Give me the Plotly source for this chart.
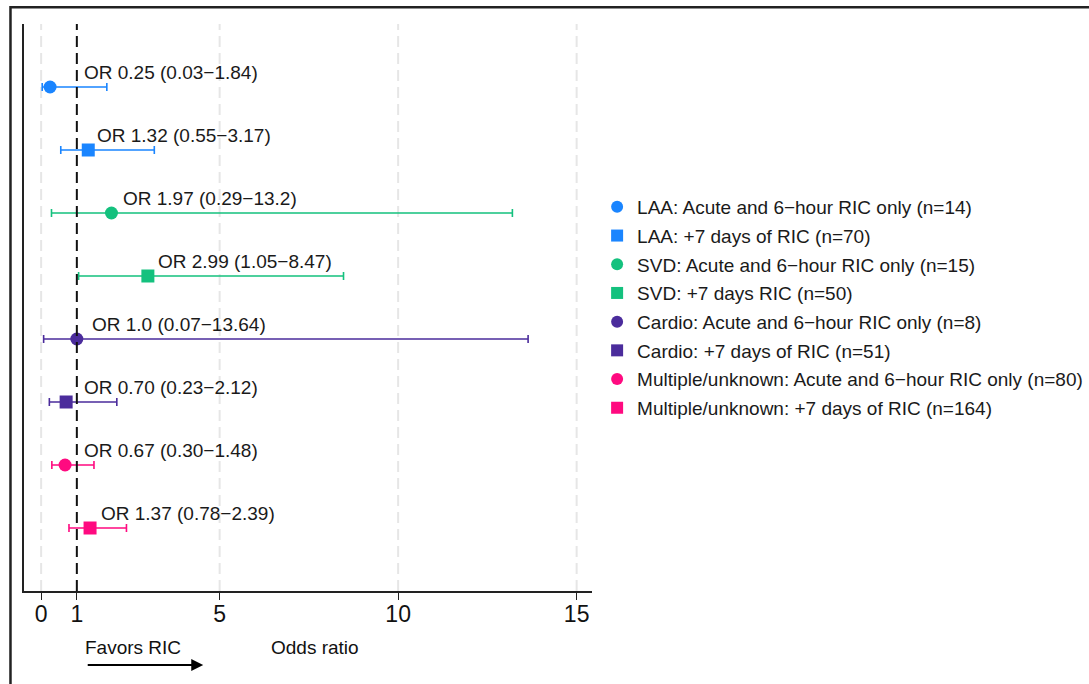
import plotly.graph_objects as go
import numpy as np

labels = [
    "LAA: Acute and 6\u2212hour RIC only (n=14)",
    "LAA: +7 days of RIC (n=70)",
    "SVD: Acute and 6\u2212hour RIC only (n=15)",
    "SVD: +7 days RIC (n=50)",
    "Cardio: Acute and 6\u2212hour RIC only (n=8)",
    "Cardio: +7 days of RIC (n=51)",
    "Multiple/unknown: Acute and 6\u2212hour RIC only (n=80)",
    "Multiple/unknown: +7 days of RIC (n=164)",
]
odds = [0.25, 1.32, 1.97, 2.99, 1.0, 0.70, 0.67, 1.37]
lower = [0.03, 0.55, 0.29, 1.05, 0.07, 0.23, 0.30, 0.78]
upper = [1.84, 3.17, 13.2, 8.47, 13.64, 2.12, 1.48, 2.39]
or_text = ["OR 0.25 (0.03\u22121.84)", "OR 1.32 (0.55\u22123.17)", "OR 1.97 (0.29\u221213.2)",
           "OR 2.99 (1.05\u22128.47)", "OR 1.0 (0.07\u221213.64)", "OR 0.70 (0.23\u22122.12)",
           "OR 0.67 (0.30\u22121.48)", "OR 1.37 (0.78\u22122.39)"]
colors = ["#1A85FF", "#1A85FF", "#14C17E", "#14C17E", "#4B2C9C", "#4B2C9C", "#FF0A80", "#FF0A80"]
symbols = ["circle", "square", "circle", "square", "circle", "square", "circle", "square"]
label_dx = [0.33, 0.28, 0.35, 0.32, 0.46, 0.33, 0.33, 0.34]

FONT = "Liberation Sans, Arial, sans-serif"
fig = go.Figure()
for i, lab in enumerate(labels):
    y = i + 1
    fig.add_trace(go.Scatter(
        x=[odds[i]], y=[y], mode="markers", name=lab, legendgroup=f"g{i}",
        marker=dict(symbol=symbols[i], size=13, color=colors[i]),
        error_x=dict(type="data", symmetric=False,
                     array=[upper[i] - odds[i]], arrayminus=[odds[i] - lower[i]],
                     color=colors[i], thickness=1.6, width=4),
    ))
    fig.add_annotation(x=max(odds[i] + label_dx[i], 1.22), y=y, text=or_text[i],
                       showarrow=False, xanchor="left", yanchor="bottom", yshift=2,
                       xshift=-3,
                       font=dict(size=19, color="#1a1a1a", family=FONT))

# grid lines and reference line
for gx in [0, 5, 10, 15]:
    fig.add_shape(type="line", x0=gx, x1=gx, y0=0, y1=1, xref="x", yref="paper",
                  line=dict(color="#E6E6E6", width=2, dash="11px,6px"), layer="below")
fig.add_shape(type="line", x0=1, x1=1, y0=0, y1=1, xref="x", yref="paper",
              line=dict(color="#111111", width=2, dash="11px,6px"))

# outer frame
fig.add_shape(type="rect", xref="paper", yref="paper",
              x0=-0.0238, x1=2.0, y0=-0.5, y1=1.0297,
              line=dict(color="#222222", width=2.5))

fig.add_annotation(text="Favors RIC", x=1.17, y=-0.1005, xref="x", yref="paper",
                   xanchor="left", yanchor="middle", showarrow=False,
                   font=dict(size=19, color="#111", family=FONT))
fig.add_annotation(text="Odds ratio", x=0.512, y=-0.1005, xref="paper", yref="paper",
                   xanchor="center", yanchor="middle", showarrow=False,
                   font=dict(size=19, color="#111", family=FONT))
fig.add_annotation(x=4.54, y=-0.1305, ax=-117, ay=0, xref="x", yref="paper",
                   axref="pixel", ayref="pixel", text="", showarrow=True,
                   arrowhead=2, arrowsize=1.2, arrowwidth=2, arrowcolor="#000")

fig.update_layout(
    width=1089, height=684,
    margin=dict(l=24, r=497, t=24, b=93, autoexpand=False),
    paper_bgcolor="white", plot_bgcolor="white",
    font=dict(family=FONT, color="#111"),
    showlegend=True,
    legend=dict(x=1.009, y=0.5, xanchor="left", yanchor="middle",
                font=dict(size=19, color="#1a1a1a", family=FONT),
                tracegroupgap=1, itemsizing="constant", bgcolor="rgba(0,0,0,0)"),
    xaxis=dict(range=[-0.48, 15.43], tickvals=[0, 1, 5, 10, 15],
               showgrid=False, zeroline=False, showline=True, linecolor="#222",
               linewidth=1.5, ticks="outside", ticklen=7, tickcolor="#222",
               ticklabelstandoff=-5,
               tickfont=dict(size=23, color="#111")),
    yaxis=dict(range=[9, 0], showgrid=False, zeroline=False, showticklabels=False,
               showline=True, linecolor="#222", linewidth=1.5),
)
fig.write_html("out.html", config={"displayModeBar": False},
               post_script="document.body.style.margin='0px';")
